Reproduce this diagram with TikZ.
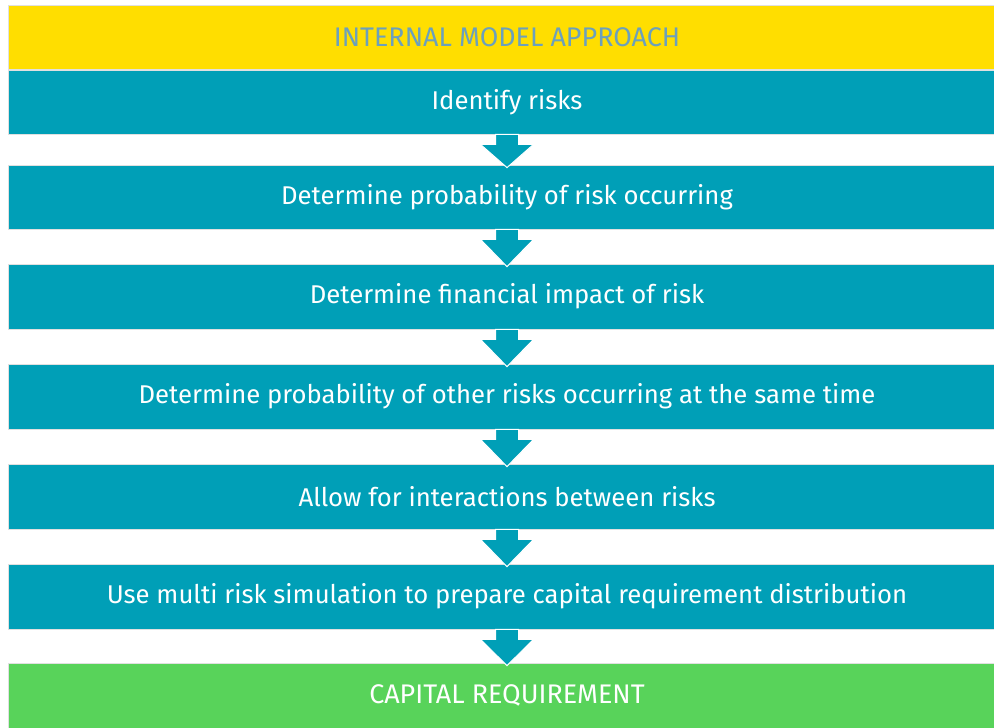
\documentclass[tikz,border=0pt]{standalone}
\usepackage{fontspec}
\setmainfont{Fira Sans}
\usetikzlibrary{
  positioning,
  calc
}
\definecolor{imayellow}{RGB}{255,222,0}
\definecolor{imateal}{RGB}{0,159,183}
\definecolor{imagreen}{RGB}{88,211,90}
\definecolor{imatitle}{RGB}{108,160,188}
\tikzstyle{stage}=[minimum width=998pt, minimum height=64pt, inner sep=0pt,
  draw=black!12, line width=0.8pt, fill=imateal, text=white,
  font=\fontsize{25.7}{30}\selectfont]
\tikzstyle{caps}=[font=\fontsize{26.9}{31}\selectfont]
\tikzstyle{flow}=[fill=imateal, draw=white, line width=1pt,
  to path={let \p1=(\tikztostart.south), \p2=(\tikztotarget.north) in
    ({\x1-11.5pt},\y1) -- ({\x1-11.5pt},{\y1-10pt}) -- ({\x1-26.5pt},{\y1-10pt})
    -- (\x1,{\y2-3pt}) -- ({\x1+26.5pt},{\y1-10pt}) -- ({\x1+11.5pt},{\y1-10pt})
    -- ({\x1+11.5pt},\y1) -- cycle}]

\begin{document}
\begin{tikzpicture}[x=1pt, y=-1pt]
    \def\cx{507};

    % 画面の大きさ
    \useasboundingbox (0,0) rectangle (994,728);
    \fill[white] (0,0) rectangle (994,728);
    \clip (0,0) rectangle (994,728);

    % 見出し
    \node[stage, caps, fill=imayellow, text=imatitle] (title) at (\cx,37) {INTERNAL MODEL APPROACH};

    % 各段階
    \node[stage] (identify) at (\cx,102) {Identify risks};
    \node[stage] (probability) at (\cx,197) {Determine probability of risk occurring};
    \node[stage, minimum height=65pt] (impact) at (\cx,296.5) {Determine financial impact of risk};
    \node[stage, minimum height=65pt] (others) at (\cx,396.5) {Determine probability of other risks occurring at the same time};
    \node[stage, minimum height=65pt] (interact) at (\cx,496.5) {Allow for interactions between risks};
    \node[stage, minimum height=65pt] (simulate) at (\cx,596.5) {Use multi risk simulation to prepare capital requirement distribution};

    % 結果
    \node[stage, caps, minimum height=65pt, fill=imagreen] (capital) at (\cx,695.5) {CAPITAL REQUIREMENT};

    % 矢印
    \draw[flow] (identify) to (probability);
    \draw[flow] (probability) to (impact);
    \draw[flow] (impact) to (others);
    \draw[flow] (others) to (interact);
    \draw[flow] (interact) to (simulate);
    \draw[flow] (simulate) to (capital);
  \end{tikzpicture}
\end{document}
